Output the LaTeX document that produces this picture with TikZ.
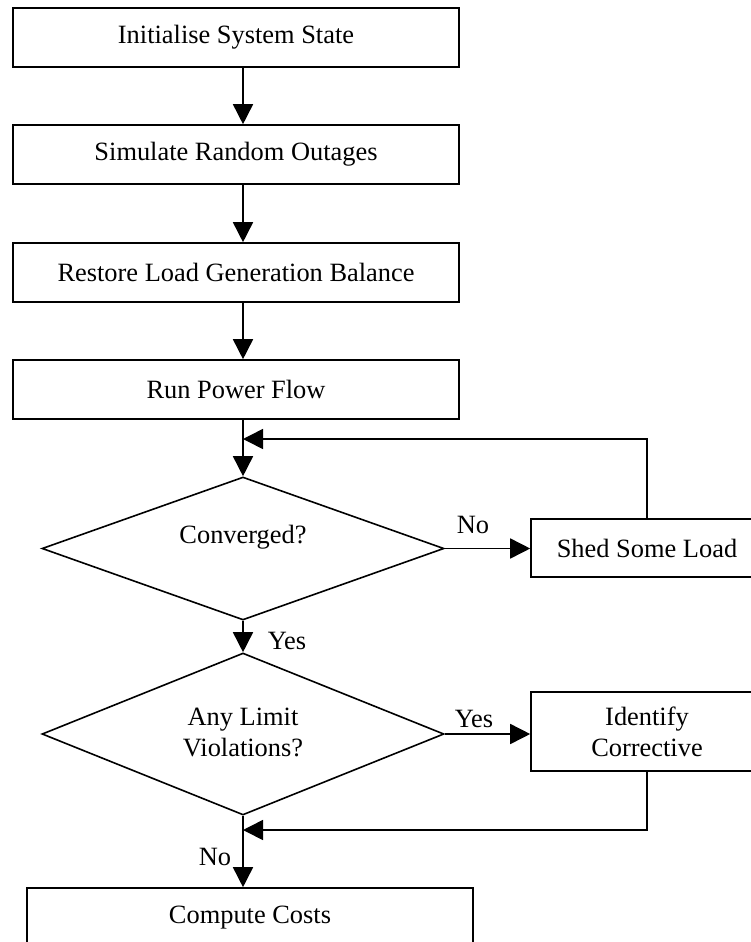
\documentclass[tikz,border=0pt]{standalone}
\usepackage{fontspec}
\setmainfont{Liberation Serif}
\usetikzlibrary{arrows.meta,shapes.geometric}
\begin{document}
\begin{tikzpicture}[x=1pt,y=-1pt,
  every node/.style={font=\fontsize{26.4pt}{31pt}\selectfont, inner sep=0pt},
  procbox/.style={draw, line width=1.6pt, rectangle, minimum height=59pt, minimum width=446pt},
  sidebox/.style={draw, line width=1.6pt, rectangle, minimum width=232pt, align=center},
  decision/.style={draw, line width=1.6pt, diamond, minimum width=402pt, aspect=2.8},
  flow/.style={line width=1.6pt, -{Triangle[length=20pt,width=20pt]}}]

% page frame
\path[use as bounding box] (0,0) rectangle (751,942);
\fill[white] (0,0) rectangle (751,942);

% main chain of steps
\node[procbox] (init) at (236,37.5) {Initialise System State};
\node[procbox] (sim) at (236,154.5) {Simulate Random Outages};
\node[procbox] (bal) at (236,272.5) {Restore Load Generation Balance};
\node[procbox] (pf) at (236,389.5) {Run Power Flow};

% convergence test and load shedding
\node[decision, minimum height=143pt] (conv) at (243,548.5) {};
\node (convtxt) at ([yshift=11pt]conv.center) {Converged?};
\node[sidebox, minimum height=58pt] (shed) at (647,548) {Shed Some Load};

% limit check and corrective action
\node[decision, minimum height=162pt] (lim) at (243,734) {};
\node[align=center] (limtxt) at ([yshift=2pt]lim.center) {Any Limit\\Violations?};
\node[sidebox, minimum height=79pt] (fix) at (647,731.5) {Identify\\Corrective};

% final step
\node[procbox] (cost) at (250,917.5) {Compute Costs};

% junctions where the loops rejoin the main line
\coordinate (back1) at (243,439);
\coordinate (back2) at (243,830);

% connectors
\draw[flow] (init.south -| conv.north) -- (sim.north -| conv.north);
\draw[flow] (sim.south -| conv.north) -- (bal.north -| conv.north);
\draw[flow] (bal.south -| conv.north) -- (pf.north -| conv.north);
\draw[flow] (pf.south -| conv.north) -- (conv.north);
\draw[flow] (shed.north) |- (back1);
\draw[flow] (conv.east) -- (conv.east -| shed.west);
\draw[flow] (conv.south) -- (lim.north);
\draw[flow] (lim.east) -- (lim.east -| fix.west);
\draw[flow] (fix.south) |- (back2);
\draw[flow] (lim.south) -- (lim.south |- cost.north);

% branch labels
\node (no1) at (473,525) {No};
\node (yes1) at (287,641) {Yes};
\node (yes2) at (474,719) {Yes};
\node (no2) at (215,857) {No};
\end{tikzpicture}
\end{document}
